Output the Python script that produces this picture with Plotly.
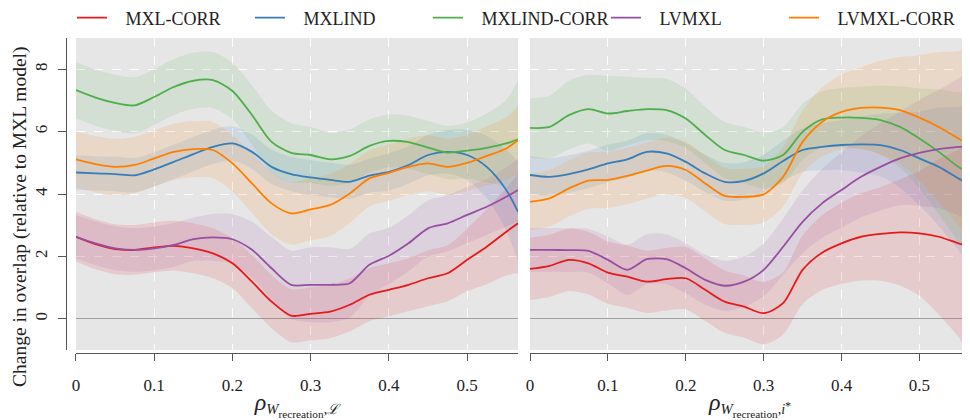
import plotly.graph_objects as go

# ---------------- data ----------------
x_grid = [0, 0.025, 0.05, 0.075, 0.1, 0.125, 0.15, 0.175, 0.2, 0.225, 0.25, 0.275,
          0.3, 0.325, 0.35, 0.375, 0.4, 0.425, 0.45, 0.475, 0.5, 0.525, 0.55, 0.565]

series_names = ["MXL-CORR", "MXLIND", "MXLIND-CORR", "LVMXL", "LVMXL-CORR"]
series_colors = ["#e41a1c", "#377eb8", "#4daf4a", "#984ea3", "#ff7f00"]
band_colors = ["rgba(228,26,28,0.13)", "rgba(55,126,184,0.13)", "rgba(77,175,74,0.13)",
               "rgba(152,78,163,0.13)", "rgba(255,127,0,0.13)"]

# Left panel (rho W_recreation, L)
mxl_corr_L = [2.63, 2.39, 2.23, 2.21, 2.29, 2.34, 2.26, 2.10, 1.78, 1.19, 0.55, 0.10,
              0.16, 0.23, 0.45, 0.77, 0.93, 1.09, 1.30, 1.46, 1.89, 2.31, 2.79, 3.06]
mxlind_L = [4.69, 4.66, 4.64, 4.60, 4.79, 5.03, 5.28, 5.51, 5.62, 5.35, 4.87, 4.64,
            4.53, 4.45, 4.39, 4.59, 4.71, 4.93, 5.25, 5.35, 5.25, 4.87, 4.13, 3.43]
mxlind_corr_L = [7.33, 7.09, 6.92, 6.84, 7.11, 7.43, 7.63, 7.65, 7.30, 6.53, 5.67, 5.32,
                 5.25, 5.11, 5.22, 5.54, 5.70, 5.66, 5.49, 5.33, 5.39, 5.48, 5.62, 5.75]
lvmxl_L = [2.63, 2.42, 2.26, 2.21, 2.26, 2.37, 2.55, 2.61, 2.55, 2.21, 1.62, 1.09,
           1.09, 1.09, 1.14, 1.73, 2.02, 2.42, 2.90, 3.06, 3.33, 3.59, 3.91, 4.13]
lvmxl_corr_L = [5.11, 4.96, 4.87, 4.93, 5.14, 5.35, 5.44, 5.41, 4.98, 4.34, 3.70, 3.38,
                3.51, 3.65, 4.02, 4.50, 4.68, 4.87, 4.98, 4.87, 5.00, 5.22, 5.46, 5.73]

# half-widths of the uncertainty bands, left panel
mxl_corr_L_hw = [0.8, 0.8, 0.8, 0.8, 0.8, 0.8, 0.8, 0.8, 0.8, 0.85, 0.85, 0.85,
                 0.85, 0.85, 0.85, 0.85, 0.85, 0.85, 0.9, 0.9, 1.0, 1.2, 1.4, 1.6]
mxlind_L_hw = [0.55, 0.55, 0.55, 0.55, 0.55, 0.55, 0.55, 0.55, 0.55, 0.55, 0.55, 0.55,
               0.55, 0.55, 0.55, 0.55, 0.6, 0.6, 0.65, 0.7, 0.8, 1.0, 1.3, 1.6]
mxlind_corr_L_hw = [0.9, 0.9, 0.9, 0.9, 0.9, 0.9, 0.9, 0.9, 0.9, 0.95, 1.0, 0.95,
                    0.9, 0.85, 0.85, 0.85, 0.85, 0.85, 0.85, 0.85, 0.9, 1.1, 1.4, 1.9]
lvmxl_L_hw = [0.7, 0.7, 0.7, 0.7, 0.7, 0.7, 0.7, 0.75, 0.8, 0.9, 1.0, 1.1,
              1.2, 1.2, 1.1, 1.0, 0.9, 0.9, 0.9, 0.9, 0.9, 0.9, 0.95, 1.0]
lvmxl_corr_L_hw = [0.9, 0.9, 0.9, 0.9, 0.9, 0.9, 0.9, 0.9, 0.9, 0.95, 1.0, 1.0,
                   1.0, 1.0, 0.95, 0.9, 0.9, 0.9, 0.9, 0.9, 0.9, 0.95, 1.0, 1.1]

# Right panel (rho W_recreation, i*)
mxl_corr_R = [1.60, 1.70, 1.89, 1.78, 1.48, 1.35, 1.19, 1.27, 1.30, 0.93, 0.55, 0.39,
              0.18, 0.50, 1.57, 2.12, 2.42, 2.63, 2.72, 2.77, 2.74, 2.63, 2.42, 2.31]
mxlind_R = [4.61, 4.55, 4.64, 4.79, 4.98, 5.11, 5.35, 5.30, 5.03, 4.66, 4.39, 4.42,
            4.66, 5.06, 5.41, 5.51, 5.57, 5.59, 5.57, 5.41, 5.14, 4.87, 4.50, 4.29]
mxlind_corr_R = [6.12, 6.15, 6.53, 6.72, 6.58, 6.66, 6.72, 6.69, 6.42, 5.89, 5.41, 5.25,
                 5.07, 5.25, 5.99, 6.39, 6.45, 6.44, 6.37, 6.15, 5.78, 5.35, 4.87, 4.66]
lvmxl_R = [2.21, 2.21, 2.20, 2.18, 1.89, 1.57, 1.91, 1.91, 1.62, 1.25, 1.06, 1.19,
           1.57, 2.31, 3.11, 3.70, 4.13, 4.55, 4.87, 5.14, 5.32, 5.44, 5.51, 5.54]
lvmxl_corr_R = [3.75, 3.86, 4.18, 4.43, 4.45, 4.58, 4.75, 4.90, 4.77, 4.34, 3.94, 3.91,
                3.99, 4.55, 5.67, 6.31, 6.63, 6.76, 6.77, 6.69, 6.45, 6.15, 5.78, 5.57]

mxl_corr_R_hw = [1.0, 1.0, 1.0, 1.0, 1.0, 1.0, 1.0, 1.0, 1.0, 1.0, 1.0, 1.0,
                 1.0, 1.0, 1.1, 1.2, 1.3, 1.4, 1.5, 1.7, 2.0, 2.5, 3.0, 3.5]
mxlind_R_hw = [0.6, 0.6, 0.6, 0.6, 0.6, 0.6, 0.6, 0.6, 0.6, 0.6, 0.6, 0.6,
               0.6, 0.65, 0.7, 0.75, 0.8, 0.9, 1.0, 1.2, 1.5, 1.9, 2.3, 2.6]
mxlind_corr_R_hw = [0.95, 1.0, 1.1, 1.1, 1.2, 1.1, 1.0, 1.0, 0.95, 0.9, 0.9, 0.9,
                    0.9, 0.9, 0.9, 0.9, 0.95, 1.0, 1.1, 1.3, 1.6, 2.0, 2.4, 2.7]
lvmxl_R_hw = [0.7, 0.7, 0.7, 0.7, 0.75, 0.8, 0.8, 0.8, 0.8, 0.8, 0.8, 0.8,
              0.85, 0.9, 1.0, 1.1, 1.2, 1.3, 1.4, 1.5, 1.7, 1.9, 2.2, 2.4]
lvmxl_corr_R_hw = [0.9, 0.9, 0.9, 0.9, 0.9, 0.9, 0.9, 0.9, 0.9, 0.9, 0.9, 0.9,
                   0.9, 0.95, 1.0, 1.1, 1.2, 1.3, 1.5, 1.7, 2.0, 2.4, 2.8, 3.2]

left_means = [mxl_corr_L, mxlind_L, mxlind_corr_L, lvmxl_L, lvmxl_corr_L]
left_hws = [mxl_corr_L_hw, mxlind_L_hw, mxlind_corr_L_hw, lvmxl_L_hw, lvmxl_corr_L_hw]
right_means = [mxl_corr_R, mxlind_R, mxlind_corr_R, lvmxl_R, lvmxl_corr_R]
right_hws = [mxl_corr_R_hw, mxlind_R_hw, mxlind_corr_R_hw, lvmxl_R_hw, lvmxl_corr_R_hw]

x_ticks = [0, 0.1, 0.2, 0.3, 0.4, 0.5]
x_ticktext = ["0", "0.1", "0.2", "0.3", "0.4", "0.5"]
y_ticks = [0, 2, 4, 6, 8]
y_ticktext = ["0", "2", "4", "6", "8"]

# ---------------- figure ----------------
SERIF = "Liberation Serif, serif"
TXT = "#222222"
NBSP = "\u00a0\u00a0\u00a0"
fig = go.Figure()

for xa, means, hws in [("x", left_means, left_hws), ("x2", right_means, right_hws)]:
    for i in range(5):
        lo = [m - h for m, h in zip(means[i], hws[i])]
        hi = [m + h for m, h in zip(means[i], hws[i])]
        fig.add_trace(go.Scatter(x=x_grid, y=lo, xaxis=xa, yaxis="y", mode="lines",
                                 line=dict(width=0, shape="spline", smoothing=0.8),
                                 showlegend=False, hoverinfo="skip"))
        fig.add_trace(go.Scatter(x=x_grid, y=hi, xaxis=xa, yaxis="y", mode="lines",
                                 line=dict(width=0, shape="spline", smoothing=0.8),
                                 fill="tonexty", fillcolor=band_colors[i],
                                 showlegend=False, hoverinfo="skip"))

for xa, means in [("x", left_means), ("x2", right_means)]:
    for i in range(5):
        fig.add_trace(go.Scatter(x=x_grid, y=means[i], xaxis=xa, yaxis="y", mode="lines",
                                 name=NBSP + series_names[i],
                                 line=dict(color=series_colors[i], width=1.8,
                                           shape="spline", smoothing=0.8),
                                 showlegend=(xa == "x"), legendrank=i + 1))

axis_common = dict(
    range=[0, 0.565], tickvals=x_ticks, ticktext=x_ticktext,
    showline=True, linecolor="#555", linewidth=1,
    ticks="outside", ticklen=7, tickcolor="#555",
    showgrid=True, gridcolor="rgba(255,255,255,0.9)", griddash="dash", gridwidth=1,
    zeroline=False, anchor="free", position=0, automargin=False,
    tickfont=dict(family=SERIF, size=17, color=TXT), ticklabelstandoff=10,
    title=dict(font=dict(family=SERIF, size=24, color=TXT), standoff=3),
)

title_L = ("<i>ρ</i><span style='font-size:21px'><sub><i>W</i></sub></span>"
           "<span style='font-size:23px'><sub><sub>recreation</sub></sub></span>"
           "<span style='font-size:20px'><sub>,<i>ℒ</i></sub></span>")
title_R = ("<i>ρ</i><span style='font-size:21px'><sub><i>W</i></sub></span>"
           "<span style='font-size:23px'><sub><sub>recreation</sub></sub></span>"
           "<span style='font-size:20px'><sub>,<i>i</i></sub></span>"
           "<span style='font-size:12px'>*</span>")

# The page body adds an 8px offset, so the figure is 962x412 inside the 970x420 window.
fig.update_layout(
    width=962, height=412,
    margin=dict(l=58, r=0, t=30, b=67, autoexpand=False),
    paper_bgcolor="white", plot_bgcolor="#e6e6e6",
    font=dict(family=SERIF, size=17, color=TXT),
    xaxis=dict(domain=[0.01106, 0.5], title_text=title_L, **axis_common),
    xaxis2=dict(domain=[0.5133, 1.0], title_text=title_R, **axis_common),
    yaxis=dict(domain=[0.0095, 1.0], range=[-1, 9], anchor="free", position=0,
               automargin=False,
               tickvals=y_ticks, ticktext=y_ticktext, tickangle=-90,
               showline=True, linecolor="#555", linewidth=1,
               ticks="outside", ticklen=8, tickcolor="#555", ticklabelstandoff=4,
               showgrid=True, gridcolor="rgba(255,255,255,0.9)", griddash="dash",
               zeroline=True, zerolinecolor="#a0a0a0", zerolinewidth=1,
               tickfont=dict(family=SERIF, size=17, color=TXT)),
    legend=dict(orientation="h", x=0.0066, xanchor="left", y=1.0635, yanchor="middle",
                entrywidth=133, entrywidthmode="pixels",
                font=dict(family=SERIF, size=18, color=TXT),
                bgcolor="rgba(0,0,0,0)", traceorder="normal"),
    annotations=[dict(text="Change in overlap (relative to MXL model)",
                      xref="paper", yref="paper", x=-0.0509, y=0.432,
                      xanchor="center", yanchor="middle",
                      textangle=-90, showarrow=False,
                      font=dict(family=SERIF, size=19.5, color=TXT))],
    showlegend=True,
)

fig.write_html("out.html")
